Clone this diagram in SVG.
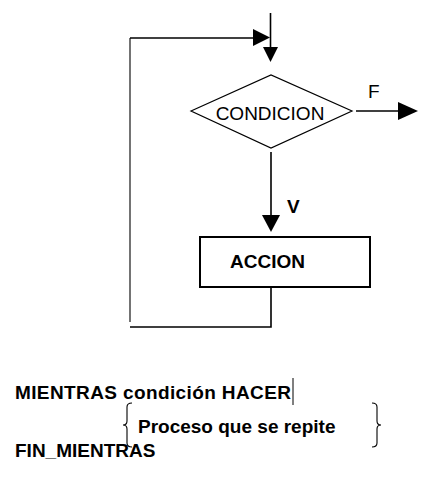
<svg xmlns="http://www.w3.org/2000/svg" width="446" height="480" viewBox="0 0 446 480">
<style>
.ln{fill:none;stroke:#000;stroke-width:1.6}
.thin{fill:none;stroke:#000;stroke-width:1.1}
.ah{fill:#000;stroke:none}
.t{font-family:"Liberation Sans",Arial,sans-serif;font-size:19px;fill:#000}
.b{font-weight:bold}
</style>
<rect x="0" y="0" width="446" height="480" fill="#fff"/>
<g id="connectors">
  <line class="ln" x1="270.5" y1="13" x2="270.5" y2="50"/>
  <polygon class="ah" points="263,47 278,47 270.5,62"/>
  <line class="thin" x1="130" y1="38" x2="130" y2="322"/>
  <line class="ln" x1="130" y1="38" x2="256" y2="38"/>
  <polygon class="ah" points="253,29 253,46 270,37.5"/>
  <line class="ln" x1="271" y1="152" x2="271" y2="218"/>
  <polygon class="ah" points="262,215 280,215 271,232"/>
  <text class="t b" x="287" y="213">V</text>
  <line class="ln" x1="356" y1="111" x2="400" y2="111"/>
  <polygon class="ah" points="398,102 398,120 418,111"/>
  <text class="t" x="368" y="98">F</text>
  <polyline class="ln" points="271,287 271,327 130,327"/>
</g>
<g id="condicion">
  <polygon points="191,111 271,75 352,111 271,148" fill="#fff" stroke="#000" stroke-width="1.2"/>
  <text class="t" x="270" y="120" text-anchor="middle" font-size="19.5">CONDICION</text>
</g>
<g id="accion">
  <rect x="200" y="237" width="170" height="50" fill="#fff" stroke="#000" stroke-width="2"/>
  <text class="t b" x="230" y="268">ACCION</text>
</g>
<g id="pseudocode">
  <text class="t b" x="15" y="399" textLength="276" lengthAdjust="spacing">MIENTRAS condición HACER</text>
  <line x1="293" y1="378" x2="293" y2="405" stroke="#000" stroke-width="1"/>
  <path d="M132,403 Q127,403 127,407 L127,421 Q127,425 123,425 Q127,425 127,429 L127,443 Q127,447 132,447" fill="none" stroke="#000" stroke-width="1.1"/>
  <text class="t b" x="138" y="433">Proceso que se repite</text>
  <path d="M372,403 Q377,403 377,407 L377,421 Q377,425 381,425 Q377,425 377,429 L377,443 Q377,447 372,447" fill="none" stroke="#000" stroke-width="1.1"/>
  <text class="t b" x="15" y="457">FIN_MIENTRAS</text>
</g>
</svg>
